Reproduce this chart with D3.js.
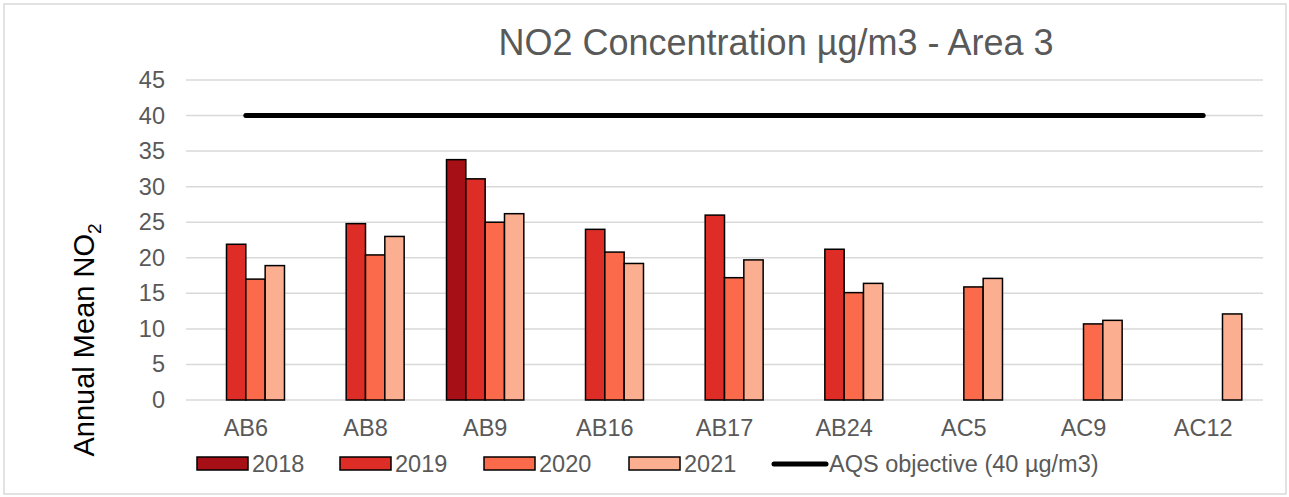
<!DOCTYPE html>
<html>
<head>
<meta charset="utf-8">
<script src="https://cdn.jsdelivr.net/npm/d3@7"></script>
<style>
  body { margin: 0; background: #fff; }
  svg { display: block; font-family: Arial, "Liberation Sans", sans-serif; }
</style>
</head>
<body>
<svg id="chart" width="1289" height="497"></svg>
<script>
var sites = ["AB6", "AB8", "AB9", "AB16", "AB17", "AB24", "AC5", "AC9", "AC12"];
var years = ["2018", "2019", "2020", "2021"];
var v2018 = [null, null, 33.8, null, null, null, null, null, null];
var v2019 = [21.9, 24.8, 31.1, 24.0, 26.0, 21.2, null, null, null];
var v2020 = [17.0, 20.4, 25.0, 20.8, 17.2, 15.1, 15.9, 10.7, null];
var v2021 = [18.9, 23.0, 26.2, 19.2, 19.7, 16.4, 17.1, 11.2, 12.1];
var yTicks = [0, 5, 10, 15, 20, 25, 30, 35, 40, 45];
var objective = 40;
var colors = ["#a50f15", "#de2d26", "#fb6a4a", "#fcae91"];

var series = [v2018, v2019, v2020, v2021];

var svg = d3.select("#chart");
var margin = {left: 186, right: 26, top: 80, bottom: 97};
var W = 1289, H = 497;

// outer border
svg.append("rect")
  .attr("x", 4).attr("y", 4)
  .attr("width", W - 7).attr("height", H - 7)
  .style("fill", "none").style("stroke", "#d9d9d9").style("stroke-width", 1.5);

var x = d3.scaleBand().domain(sites).range([margin.left, W - margin.right]);
var xIn = d3.scaleBand().domain(years)
  .range([0, x.bandwidth() * 0.646]);
var y = d3.scaleLinear().domain([0, 45]).range([H - margin.bottom, margin.top]);

// gridlines
svg.append("g").selectAll("line").data(yTicks).enter().append("line")
  .attr("x1", margin.left).attr("x2", W - margin.right)
  .attr("y1", function(d) { return y(d); })
  .attr("y2", function(d) { return y(d); })
  .style("stroke", "#d9d9d9").style("stroke-width", 1.5);

// y axis labels
var yAxis = d3.axisLeft(y).tickValues(yTicks).tickSize(0).tickPadding(0);
var yg = svg.append("g").attr("transform", "translate(165,0)").call(yAxis);
yg.select(".domain").remove();
yg.selectAll("text").style("font-size", "23.5px").style("fill", "#595959");

// x axis labels
var xAxis = d3.axisBottom(x).tickSize(0).tickPadding(0);
var xg = svg.append("g").attr("transform", "translate(0," + 419 + ")").call(xAxis);
xg.select(".domain").remove();
xg.selectAll("text").style("font-size", "23.5px").style("fill", "#595959");

// bars
var rows = [];
sites.forEach(function(s, i) {
  years.forEach(function(yr, j) {
    if (series[j][i] != null) rows.push({site: s, year: yr, value: series[j][i], k: j});
  });
});
var groupOff = (x.bandwidth() - xIn.range()[1]) / 2;
svg.append("g").selectAll("rect").data(rows).enter().append("rect")
  .attr("x", function(d) { return x(d.site) + groupOff + xIn(d.year); })
  .attr("y", function(d) { return y(d.value); })
  .attr("width", xIn.bandwidth())
  .attr("height", function(d) { return y(0) - y(d.value); })
  .style("fill", function(d) { return colors[d.k]; })
  .style("stroke", "#000").style("stroke-width", 1.5);

// objective line
svg.append("line")
  .attr("x1", x(sites[0]) + x.bandwidth() / 2)
  .attr("x2", x(sites[sites.length - 1]) + x.bandwidth() / 2)
  .attr("y1", y(objective)).attr("y2", y(objective))
  .style("stroke", "#000").style("stroke-width", 5).style("stroke-linecap", "round");

// title
svg.append("text")
  .attr("x", 776).attr("y", 55)
  .attr("text-anchor", "middle")
  .style("font-size", "36px").style("fill", "#595959")
  .text("NO2 Concentration µg/m3 - Area 3");

// y title
var yt = svg.append("text")
  .attr("transform", "translate(94,340) rotate(-90)")
  .attr("text-anchor", "middle")
  .style("font-size", "29px").style("fill", "#000");
yt.append("tspan").text("Annual Mean NO");
yt.append("tspan").attr("dy", 7).style("font-size", "19px").text("2");

// legend
var legX = [197, 340, 484, 629];
var lg = svg.append("g");
years.forEach(function(yr, j) {
  lg.append("rect")
    .attr("x", legX[j]).attr("y", 457).attr("width", 51).attr("height", 13)
    .style("fill", colors[j]).style("stroke", "#000").style("stroke-width", 1.5);
  lg.append("text")
    .attr("x", legX[j] + 55).attr("y", 472)
    .style("font-size", "23.5px").style("fill", "#595959")
    .text(yr);
});
lg.append("line")
  .attr("x1", 774).attr("x2", 826).attr("y1", 464).attr("y2", 464)
  .style("stroke", "#000").style("stroke-width", 5).style("stroke-linecap", "round");
lg.append("text")
  .attr("x", 829).attr("y", 472)
  .style("font-size", "23.5px").style("fill", "#595959")
  .text("AQS objective (40 µg/m3)");
</script>
</body>
</html>
